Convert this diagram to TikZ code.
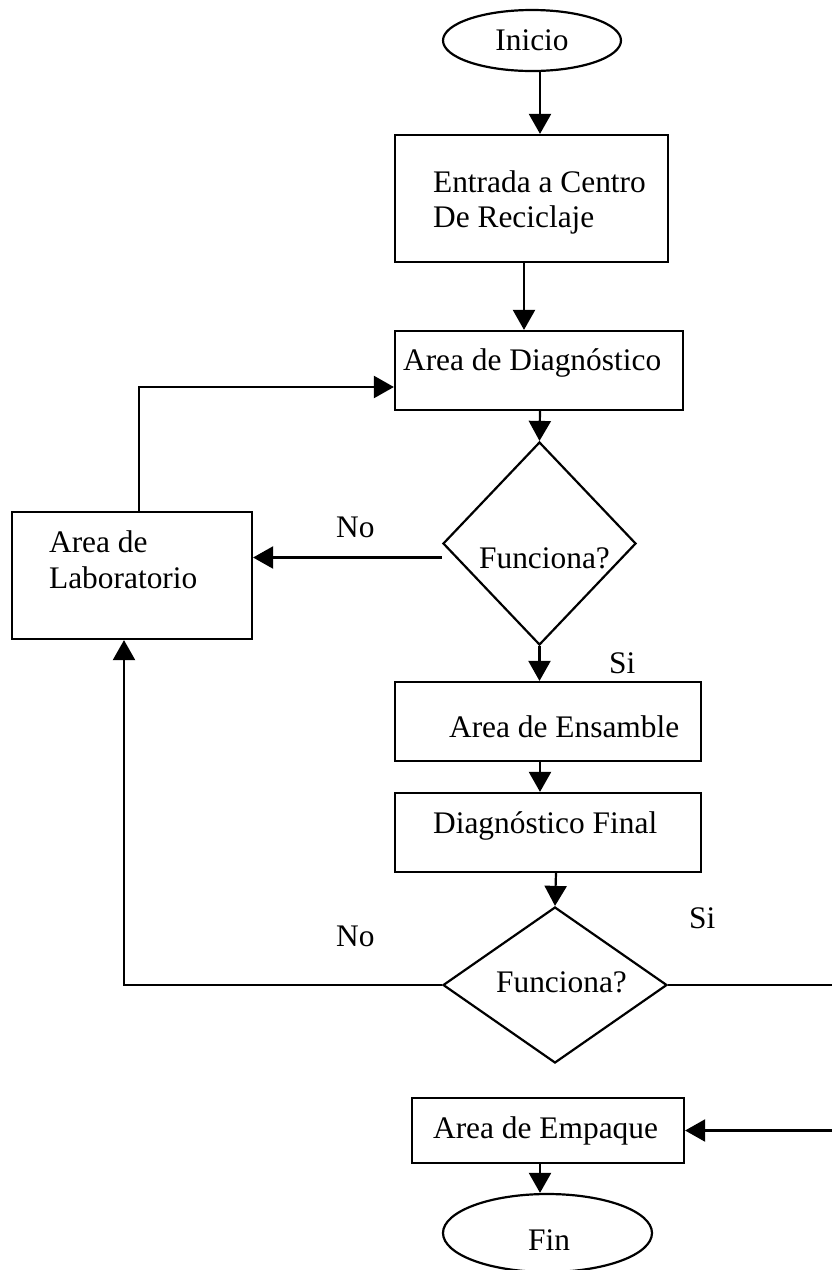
\documentclass[tikz,border=0pt]{standalone}
\usepackage{fontspec}
\setmainfont{Liberation Serif}
\usetikzlibrary{shapes.geometric,arrows.meta}
\begin{document}
\begin{tikzpicture}[x=1pt,y=-1pt,
  font=\fontsize{31.4}{36}\selectfont,
  line width=2.2pt,
  box/.style={draw,rectangle,inner sep=0pt},
  oval/.style={draw,ellipse,inner sep=0pt},
  decision/.style={draw,diamond,inner sep=0pt},
  txt/.style={inner sep=0pt,anchor=base west,align=left},
  arr/.style={-{Triangle[length=20pt,width=22pt]}}]
\useasboundingbox (0,0) rectangle (831,1270);

% shapes
\node[oval,minimum width=178pt,minimum height=61pt] (inicio) at (532,40.5) {Inicio};
\node[box,minimum width=273pt,minimum height=127pt] (entrada) at (531.5,198.5) {};
\node[box,minimum width=288pt,minimum height=79pt] (diag) at (539,370.5) {};
\node[decision,minimum width=193pt,minimum height=203pt] (dec1) at (539.5,543.5) {};
\node[box,minimum width=240pt,minimum height=127pt] (lab) at (132,575.5) {};
\node[box,minimum width=306pt,minimum height=79pt] (ens) at (548,721.5) {};
\node[box,minimum width=306pt,minimum height=79pt] (final) at (548,832.5) {};
\node[decision,minimum width=224pt,minimum height=156pt] (dec2) at (555,985) {};
\node[box,minimum width=272pt,minimum height=65pt] (emp) at (548,1130.5) {};
\node[oval,minimum width=209pt,minimum height=78pt] (fin) at (547.5,1233) {};

% texts
\node[txt] (entradaT1) at (432,192) {Entrada a Centro};
\node[txt] (entradaT2) at (432,227) {De Reciclaje};
\node[txt] (diagT) at (402,370) {Area de Diagn\'ostico};
\node[txt] (dec1T) at (478,568) {Funciona?};
\node[txt] (labT1) at (48,552) {Area de};
\node[txt] (labT2) at (48,588) {Laboratorio};
\node[txt] (no1) at (335,537) {No};
\node[txt] (si1) at (608,673) {Si};
\node[txt] (ensT) at (448,737) {Area de Ensamble};
\node[txt] (finalT) at (432,833) {Diagn\'ostico Final};
\node[txt] (dec2T) at (495,992) {Funciona?};
\node[txt] (si2) at (688,928) {Si};
\node[txt] (no2) at (335,946) {No};
\node[txt] (empT) at (432,1138) {Area de Empaque};
\node[txt] (finT) at (527,1250) {Fin};

\coordinate (rc) at (840,985);

% connectors
\draw[arr] ([xshift=8pt]inicio.south) -- ([xshift=8pt]inicio.south |- entrada.north);
\draw[arr] ([xshift=-7.5pt]entrada.south) -- ([xshift=-7.5pt]entrada.south |- diag.north);
\draw[arr] ([xshift=1pt]diag.south) -- (dec1.north);
\draw[arr] ([yshift=-14pt]dec1.west) -- ([yshift=-14pt]dec1.west -| lab.east);
\draw[arr] ([xshift=7pt]lab.north) |- ([yshift=-16.5pt]diag.west);
\draw[arr] (dec1.south) -- (dec1.south |- ens.north);
\draw[arr] ([xshift=-8pt]ens.south) -- ([xshift=-8pt]final.north);
\draw[arr] ([xshift=8pt]final.south) -- (dec2.north);
\draw[arr] (dec2.west) -| ([xshift=-8pt]lab.south);
\draw[arr] (dec2.east) -- (rc) |- (emp.east);
\draw[arr] ([xshift=-8pt]emp.south) -- ([xshift=-8pt]emp.south |- fin.north);
\end{tikzpicture}
\end{document}
